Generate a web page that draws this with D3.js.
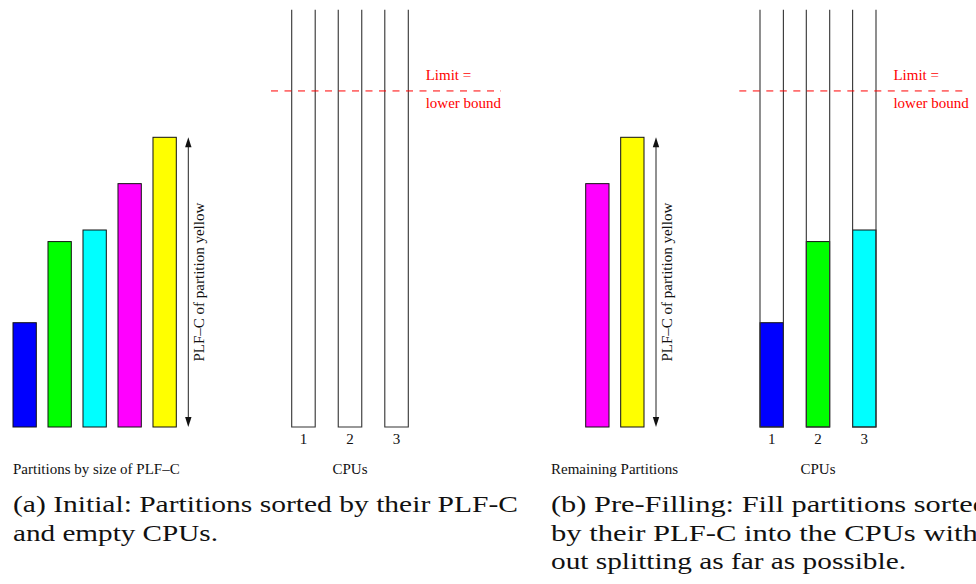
<!DOCTYPE html>
<html>
<head>
<meta charset="utf-8">
<script src="https://cdn.jsdelivr.net/npm/d3@7"></script>
<style>
  html, body { margin: 0; padding: 0; background: #fff; }
  svg { display: block; }
</style>
</head>
<body>
<svg id="chart" width="976" height="584"></svg>
<script>
// ---- data ----
const partitionNames  = ["blue", "green", "cyan", "magenta", "yellow"];
const partitionColors = ["#0000ff", "#00ff00", "#00ffff", "#ff00ff", "#ffff00"];
const partitionPLFC   = [36, 64, 68, 84, 100];   // PLF-C of each partition (yellow = 100)
const cpuLabels       = ["1", "2", "3"];
const cpuCapacity     = 144;                     // drawn height of open CPU column
const limitValue      = 116;                     // limit = lower bound
const prefillCPUs     = ["blue", "green", "cyan"]; // partition placed in CPU 1, 2, 3 (panel b)
const remainingParts  = ["magenta", "yellow"];     // partitions left over (panel b)
const limitLabel      = ["Limit =", "lower bound"];
const arrowLabel      = "PLF\u2013C of partition yellow";
const captionA        = ["(a) Initial: Partitions sorted by their PLF-C", "and empty CPUs."];
const captionB        = ["(b) Pre-Filling: Fill partitions sorted", "by their PLF-C into the CPUs with-", "out splitting as far as possible."];

const FONT = '"Liberation Serif", "Times New Roman", serif';
const svg = d3.select("#chart");
const y = d3.scaleLinear().domain([0, 100]).range([427, 137.3]);
const colorOf = d3.scaleOrdinal().domain(partitionNames).range(partitionColors);
const plfcOf = new Map(partitionNames.map((n, i) => [n, partitionPLFC[i]]));

function label(g, x, yy, txt, size, color) {
  return g.append("text").attr("x", x).attr("y", yy)
    .style("font-family", FONT).style("font-size", size + "px")
    .attr("fill", color || "#111").text(txt);
}

function drawPanel(cfg) {
  const g = svg.append("g");
  // partitions
  const px = d3.scaleBand().domain(cfg.parts).range(cfg.partRange).paddingInner(0.334).paddingOuter(0);
  g.selectAll("rect.part").data(cfg.parts).join("rect")
    .attr("class", "part")
    .attr("x", d => px(d)).attr("width", px.bandwidth())
    .attr("y", d => y(plfcOf.get(d))).attr("height", d => y(0) - y(plfcOf.get(d)))
    .attr("fill", d => colorOf(d)).attr("stroke", "#111").attr("stroke-width", 1);

  // double arrow (PLF-C of yellow)
  const last = cfg.parts[cfg.parts.length - 1];
  const ax = px(last) + px.bandwidth() + 12;
  const yTop = y(plfcOf.get("yellow")), yBot = y(0);
  g.append("line").attr("x1", ax).attr("x2", ax).attr("y1", yTop + 4).attr("y2", yBot - 4)
    .attr("stroke", "#222").attr("stroke-width", 1);
  const head = (tipY, dir) => `M${ax},${tipY} L${ax - 3.2},${tipY + dir * 10} L${ax + 3.2},${tipY + dir * 10} Z`;
  g.append("path").attr("d", head(yTop, 1)).attr("fill", "#111");
  g.append("path").attr("d", head(yBot, -1)).attr("fill", "#111");
  label(g, 0, 0, arrowLabel, 15)
    .attr("transform", `translate(${ax + 16},${(yTop + yBot) / 2}) rotate(-90)`)
    .attr("text-anchor", "middle");

  // CPUs
  const cx = d3.scaleBand().domain(cpuLabels).range(cfg.cpuRange).paddingInner(0.495).paddingOuter(0);
  const bw = cx.bandwidth();
  if (cfg.fill) {
    g.selectAll("rect.fill").data(cfg.fill).join("rect")
      .attr("class", "fill")
      .attr("x", (d, i) => cx(cpuLabels[i])).attr("width", bw)
      .attr("y", d => y(plfcOf.get(d))).attr("height", d => y(0) - y(plfcOf.get(d)))
      .attr("fill", d => colorOf(d)).attr("stroke", "#111").attr("stroke-width", 1);
  }
  g.selectAll("path.cpu").data(cpuLabels).join("path")
    .attr("class", "cpu")
    .attr("d", d => {
      const x0 = cx(d), x1 = cx(d) + bw;
      return `M${x0},${y(cpuCapacity)} L${x0},${y(0)} L${x1},${y(0)} L${x1},${y(cpuCapacity)}`;
    })
    .attr("fill", "none").attr("stroke", "#333").attr("stroke-width", 1.1);

  // CPU axis labels
  const axis = g.append("g").attr("transform", `translate(0,${y(0)})`)
    .call(d3.axisBottom(cx).tickSize(0).tickPadding(6.5));
  axis.select(".domain").remove();
  axis.selectAll("text").style("font-family", FONT).style("font-size", "15px").attr("fill", "#111");

  // limit line
  const lx0 = cx(cpuLabels[0]) - 20.7;
  const lx1 = cx(cpuLabels[cpuLabels.length - 1]) + bw + 92.7;
  g.append("line").attr("x1", lx0).attr("x2", lx1).attr("y1", y(limitValue)).attr("y2", y(limitValue))
    .attr("stroke", "#ff0000").attr("stroke-width", 1).attr("stroke-dasharray", "7,6.5");
  const tx = cx(cpuLabels[cpuLabels.length - 1]) + bw + 17.4;
  label(g, tx, 80, limitLabel[0], 15, "#ff0000");
  label(g, tx, 108, limitLabel[1], 15, "#ff0000");

  // bottom labels
  label(g, cfg.titleX, 474, cfg.partTitle, 15);
  label(g, (cfg.cpuRange[0] + cfg.cpuRange[1]) / 2, 474, "CPUs", 15).attr("text-anchor", "middle");

  // caption
  cfg.caption.forEach((line, i) => {
    label(g, cfg.capX, 512 + i * 28.6, line, 23.5)
      .attr("textLength", cfg.capLen[i]).attr("lengthAdjust", "spacingAndGlyphs");
  });
}

drawPanel({
  parts: partitionNames,
  partRange: [13, 176.3],
  cpuRange: [291.7, 408.3],
  titleX: 13,
  partTitle: "Partitions by size of PLF\u2013C",
  caption: captionA, capX: 13, capLen: [505, 205]
});

drawPanel({
  parts: remainingParts,
  partRange: [585.7, 644],
  cpuRange: [760, 876],
  fill: prefillCPUs,
  titleX: 551,
  partTitle: "Remaining Partitions",
  caption: captionB, capX: 551, capLen: [437, 437, 355]
});
</script>
</body>
</html>
